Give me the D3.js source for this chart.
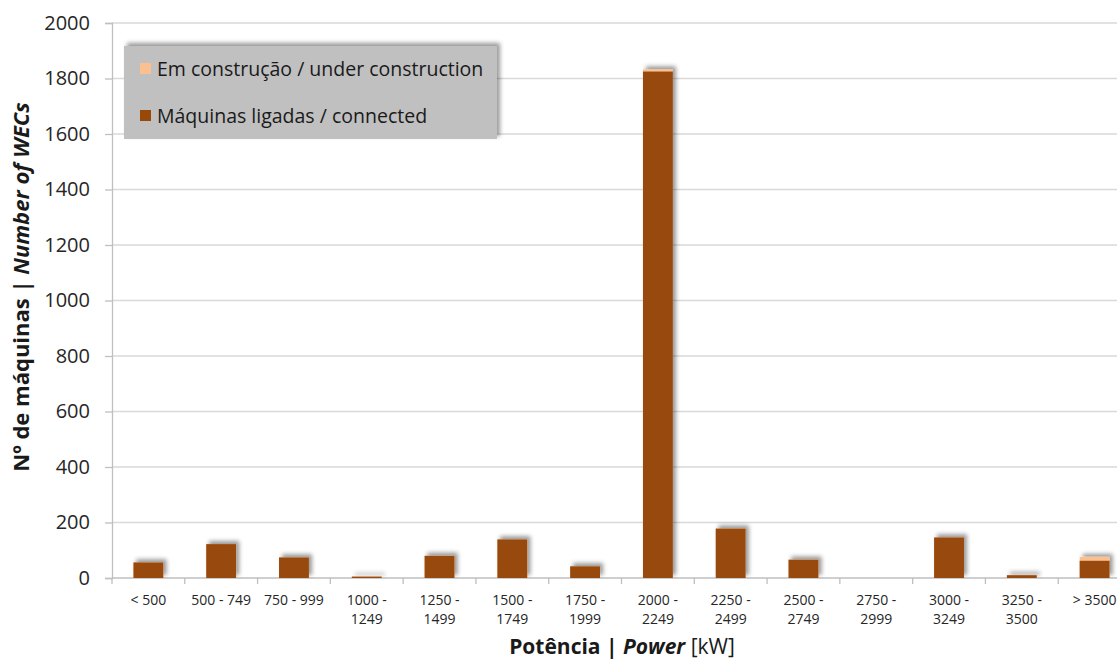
<!DOCTYPE html>
<html>
<head>
<meta charset="utf-8">
<script src="https://cdn.jsdelivr.net/npm/d3@7"></script>
<style>
  body { margin: 0; background: #fff; }
  text { font-family: "Open Sans", "Liberation Sans", sans-serif; }
</style>
</head>
<body>
<svg width="1117" height="661"></svg>
<script>
// categories (power classes, kW)
var categories = ["< 500", "500 - 749", "750 - 999", "1000 - 1249", "1250 - 1499", "1500 - 1749",
  "1750 - 1999", "2000 - 2249", "2250 - 2499", "2500 - 2749", "2750 - 2999", "3000 - 3249",
  "3250 - 3500", "> 3500"];
// connected machines
var connected = [56, 122, 74, 5, 80, 139, 42, 1825, 178, 66, 0, 146, 10, 62];
// under construction
var construction = [0, 0, 0, 0, 0, 0, 0, 8, 0, 0, 0, 0, 0, 14];
var yTicks = [0, 200, 400, 600, 800, 1000, 1200, 1400, 1600, 1800, 2000];

var seriesNames = ["Em construção / under construction", "Máquinas ligadas / connected"];
var colConnected = "#984807", colBuild = "#fac090";

var svg = d3.select("svg");
var x0 = 112, x1 = 1131, yTop = 23, yBase = 578;

var x = d3.scaleBand().domain(categories).range([x0, x1]).paddingInner(0.59).paddingOuter(0.295);
var xb = d3.scaleBand().domain(categories).range([x0, x1]);
var y = d3.scaleLinear().domain([0, 2000]).range([yBase, yTop]);

var defs = svg.append("defs");
var f = defs.append("filter").attr("id", "shadow")
  .attr("x", "-30%").attr("y", "-30%").attr("width", "160%").attr("height", "160%");
f.append("feDropShadow").attr("dx", 3).attr("dy", -3).attr("stdDeviation", 2.2)
  .attr("flood-color", "#000").attr("flood-opacity", 0.4);

// gridlines
svg.append("g").selectAll("line").data(yTicks.slice(1)).enter().append("line")
  .attr("x1", x0).attr("x2", 1117)
  .attr("y1", function(d) { return y(d); }).attr("y2", function(d) { return y(d); })
  .attr("stroke", "#d9d9d9").attr("stroke-width", 1.3);

// y axis
var yAxis = svg.append("g").attr("transform", "translate(" + x0 + ",0)")
  .call(d3.axisLeft(y).tickValues(yTicks).tickFormat(d3.format("d")).tickSize(7).tickPadding(15));
yAxis.select(".domain").attr("stroke", "#bfbfbf").attr("stroke-width", 1.3);
yAxis.selectAll(".tick line").attr("stroke", "#bfbfbf").attr("stroke-width", 1.3);
yAxis.selectAll(".tick text").attr("font-size", 20).attr("fill", "#262626")
  .attr("font-family", "Open Sans, sans-serif");

// x axis
var xAxis = svg.append("g").attr("transform", "translate(0," + yBase + ")");
xAxis.append("line").attr("x1", x0).attr("x2", x1).attr("y1", 0).attr("y2", 0)
  .attr("stroke", "#bfbfbf").attr("stroke-width", 1.3);
xAxis.selectAll("line.tk").data(categories.concat(["end"])).enter().append("line")
  .attr("class", "tk")
  .attr("x1", function(d, i) { return x0 + i * xb.bandwidth(); })
  .attr("x2", function(d, i) { return x0 + i * xb.bandwidth(); })
  .attr("y1", 0).attr("y2", 6).attr("stroke", "#bfbfbf").attr("stroke-width", 1.3);

var lbl = xAxis.selectAll("text.lb").data(categories).enter().append("text")
  .attr("class", "lb")
  .attr("text-anchor", "middle").attr("font-size", 14).attr("fill", "#262626")
  .attr("transform", function(d) { return "translate(" + (xb(d) + xb.bandwidth() / 2) + ",0)"; });
lbl.each(function(d) {
  var parts = d.match(/^(\d+) - (\d+)$/);
  var t = d3.select(this);
  if (parts && d !== "500 - 749" && d !== "750 - 999") {
    t.append("tspan").attr("x", 0).attr("y", 27).text(parts[1] + " -");
    t.append("tspan").attr("x", 0).attr("y", 46).text(parts[2]);
  } else {
    t.append("tspan").attr("x", 0).attr("y", 27).text(d);
  }
});

// bars
var g = svg.append("g").attr("filter", "url(#shadow)");
categories.forEach(function(c, i) {
  var tot = connected[i] + construction[i];
  if (tot <= 0) return;
  g.append("rect").attr("x", x(c)).attr("width", x.bandwidth())
    .attr("y", y(tot)).attr("height", y(0) - y(tot)).attr("fill", colBuild);
  g.append("rect").attr("x", x(c)).attr("width", x.bandwidth())
    .attr("y", y(connected[i])).attr("height", y(0) - y(connected[i])).attr("fill", colConnected);
});

// legend
var lg = svg.append("g");
lg.append("rect").attr("x", 124).attr("y", 46).attr("width", 373).attr("height", 93)
  .attr("fill", "#c0c0c0").attr("filter", "url(#shadow)");
[colBuild, colConnected].forEach(function(col, i) {
  lg.append("rect").attr("x", 140).attr("y", 63 + i * 47).attr("width", 11).attr("height", 11).attr("fill", col);
  lg.append("text").attr("x", 157).attr("y", 76 + i * 47).attr("font-size", 19.5).attr("fill", "#1a1a1a")
    .text(seriesNames[i]);
});

// y title
var yt = svg.append("text").attr("transform", "translate(29,287) rotate(-90)")
  .attr("text-anchor", "middle").attr("font-size", 22).attr("font-weight", "bold").attr("fill", "#1a1a1a");
yt.append("tspan").text("Nº de máquinas | ");
yt.append("tspan").attr("font-style", "italic").text("Number of WECs");

// x title
var xt = svg.append("text").attr("x", 622).attr("y", 654)
  .attr("text-anchor", "middle").attr("font-size", 21).attr("fill", "#1a1a1a");
xt.append("tspan").attr("font-weight", "bold").text("Potência  | ");
xt.append("tspan").attr("font-weight", "bold").attr("font-style", "italic").text("Power");
xt.append("tspan").text(" [kW]");
</script>
</body>
</html>
